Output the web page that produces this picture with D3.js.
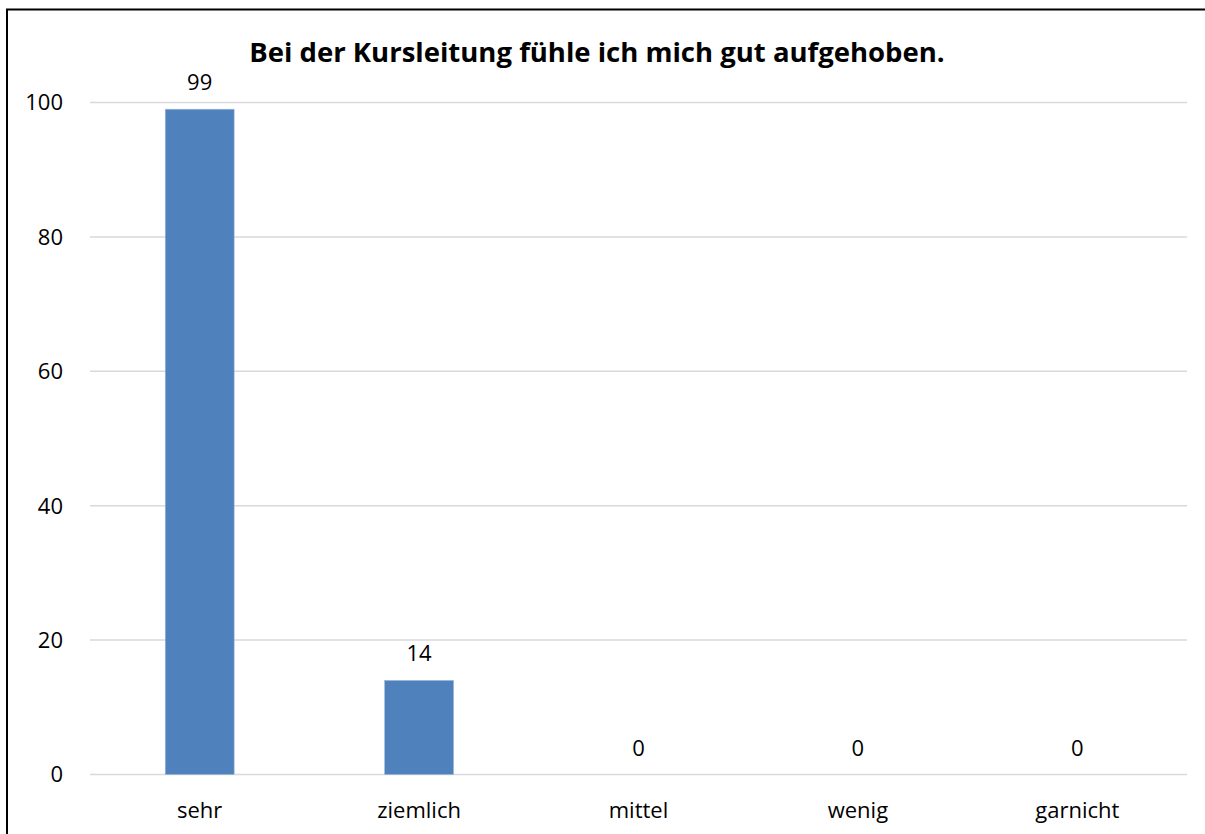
<!DOCTYPE html>
<html>
<head>
<meta charset="utf-8">
<script src="https://cdn.jsdelivr.net/npm/d3@7"></script>
<style>
  html, body { margin: 0; padding: 0; background: #fff; }
  svg { display: block; font-family: "Open Sans", "Liberation Sans", sans-serif; }
</style>
</head>
<body>
<svg id="chart" width="1205" height="834"></svg>
<script>
// data
const title = "Bei der Kursleitung fühle ich mich gut aufgehoben.";
const categories = ["sehr", "ziemlich", "mittel", "wenig", "garnicht"];
const values = [99, 14, 0, 0, 0];
const yTicks = [0, 20, 40, 60, 80, 100];

const svg = d3.select("#chart");
const margin = { left: 90, right: 1187, top: 102.5, bottom: 774.5 };

// outer frame
svg.append("rect")
  .attr("x", 7).attr("y", 9.5)
  .attr("width", 1210).attr("height", 850)
  .attr("fill", "none")
  .attr("stroke", "#000")
  .attr("stroke-width", 2);

const x = d3.scaleBand()
  .domain(categories)
  .range([margin.left, margin.right])
  .paddingInner(0.686)
  .paddingOuter(0.343);

const y = d3.scaleLinear()
  .domain([0, 100])
  .range([margin.bottom, margin.top]);

// gridlines
svg.append("g")
  .selectAll("line")
  .data(yTicks)
  .enter()
  .append("line")
  .attr("x1", margin.left)
  .attr("x2", margin.right)
  .attr("y1", d => y(d))
  .attr("y2", d => y(d))
  .attr("stroke", "#d9d9d9")
  .attr("stroke-width", 1.5);

// y tick labels
svg.append("g")
  .selectAll("text")
  .data(yTicks)
  .enter()
  .append("text")
  .attr("x", 63)
  .attr("y", d => y(d))
  .attr("dy", "0.36em")
  .attr("text-anchor", "end")
  .attr("font-size", 22)
  .attr("fill", "#000")
  .text(d => d);

// bars
svg.append("g")
  .selectAll("rect")
  .data(categories)
  .enter()
  .append("rect")
  .attr("x", d => x(d))
  .attr("width", x.bandwidth())
  .attr("y", (d, i) => y(values[i]))
  .attr("height", (d, i) => y(0) - y(values[i]))
  .attr("fill", "#4f81bd")
  .attr("stroke", "#9bb7dd")
  .attr("stroke-width", 0.6);

// value labels
svg.append("g")
  .selectAll("text")
  .data(categories)
  .enter()
  .append("text")
  .attr("x", d => x(d) + x.bandwidth() / 2)
  .attr("y", (d, i) => y(values[i]) - 19)
  .attr("text-anchor", "middle")
  .attr("font-size", 22)
  .attr("fill", "#000")
  .text((d, i) => values[i]);

// category labels
svg.append("g")
  .selectAll("text")
  .data(categories)
  .enter()
  .append("text")
  .attr("x", d => x(d) + x.bandwidth() / 2)
  .attr("y", margin.bottom + 43)
  .attr("text-anchor", "middle")
  .attr("font-size", 22)
  .attr("fill", "#000")
  .text(d => d);

// title
svg.append("text")
  .attr("x", 597)
  .attr("y", 62)
  .attr("text-anchor", "middle")
  .attr("font-size", 27.5)
  .attr("font-weight", "bold")
  .attr("fill", "#000")
  .text(title);
</script>
</body>
</html>
